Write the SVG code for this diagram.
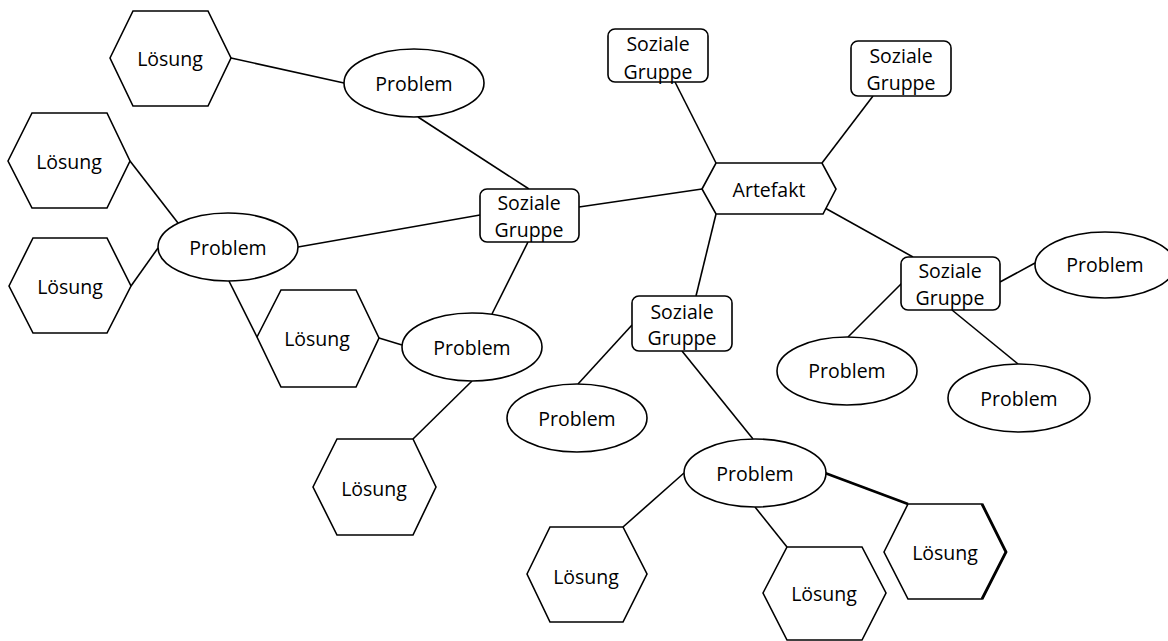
<svg xmlns="http://www.w3.org/2000/svg" width="1168" height="641" viewBox="0 0 1168 641">
<style>
.s{fill:#fff;stroke:#000;stroke-width:1.6}
.t{font-family:"Open Sans","Noto Sans",sans-serif;font-size:19.5px;fill:#000;text-anchor:middle;dominant-baseline:central}
.c line{stroke:#000;stroke-width:1.6}
</style>
<rect width="1168" height="641" fill="#fff"/>
<g id="connectors" class="c">
<line x1="231" y1="58" x2="344" y2="83"/>
<line x1="418" y1="117" x2="529" y2="189"/>
<line x1="130" y1="161" x2="178" y2="223"/>
<line x1="131" y1="286" x2="158" y2="248"/>
<line x1="298" y1="247" x2="480" y2="215"/>
<line x1="229" y1="281" x2="257" y2="337"/>
<line x1="379" y1="338" x2="402" y2="345"/>
<line x1="528" y1="242" x2="492" y2="314"/>
<line x1="472" y1="381" x2="413" y2="439"/>
<line x1="579" y1="207" x2="702" y2="189"/>
<line x1="675" y1="82" x2="716" y2="163"/>
<line x1="873" y1="96" x2="822" y2="163"/>
<line x1="716" y1="214" x2="696" y2="296"/>
<line x1="825" y1="208" x2="913" y2="257"/>
<line x1="1000" y1="282" x2="1035" y2="263"/>
<line x1="902" y1="283" x2="848" y2="337"/>
<line x1="952" y1="310" x2="1018" y2="364"/>
<line x1="632" y1="325" x2="578" y2="384"/>
<line x1="682" y1="351" x2="753" y2="439"/>
<line x1="684" y1="473" x2="623" y2="527"/>
<line x1="755" y1="507" x2="787" y2="547"/>
<line x1="825" y1="473" x2="908" y2="504" style="stroke-width:2.6"/>
</g>
<g id="loesung1"><polygon class="s" points="110,58 133,11 208,11 231,58 208,106 133,106"/><text class="t" x="170" y="58">Lösung</text></g>
<g id="problem1"><ellipse class="s" cx="414" cy="83" rx="70" ry="34"/><text class="t" x="414" y="83">Problem</text></g>
<g id="loesung2"><polygon class="s" points="8,161 32,113 107,113 130,161 107,208 32,208"/><text class="t" x="69" y="161">Lösung</text></g>
<g id="loesung3"><polygon class="s" points="9,286 33,238 107,238 131,286 107,333 33,333"/><text class="t" x="70" y="286">Lösung</text></g>
<g id="problem2"><ellipse class="s" cx="228" cy="247" rx="70" ry="34"/><text class="t" x="228" y="247">Problem</text></g>
<g id="gruppe1"><rect class="s" x="480" y="189" width="99" height="53" rx="7"/><text class="t" x="529" y="202">Soziale</text><text class="t" x="529" y="229">Gruppe</text></g>
<g id="loesung4"><polygon class="s" points="257,337 281,290 356,290 379,338 356,387 281,387"/><text class="t" x="317" y="338">Lösung</text></g>
<g id="problem3"><ellipse class="s" cx="472" cy="347" rx="70" ry="34"/><text class="t" x="472" y="347">Problem</text></g>
<g id="loesung5"><polygon class="s" points="313,487 337,439 413,439 436,487 413,535 337,535"/><text class="t" x="374" y="488">Lösung</text></g>
<g id="gruppe2"><rect class="s" x="608" y="29" width="100" height="53" rx="7"/><text class="t" x="658" y="43">Soziale</text><text class="t" x="658" y="71">Gruppe</text></g>
<g id="gruppe3"><rect class="s" x="851" y="41" width="100" height="55" rx="7"/><text class="t" x="901" y="55">Soziale</text><text class="t" x="901" y="82">Gruppe</text></g>
<g id="artefakt"><polygon class="s" points="702,189 716,163 822,163 836,189 823,214 716,214"/><text class="t" x="769" y="189">Artefakt</text></g>
<g id="gruppe4"><rect class="s" x="901" y="257" width="99" height="53" rx="7"/><text class="t" x="950" y="270">Soziale</text><text class="t" x="950" y="297">Gruppe</text></g>
<g id="problem4"><ellipse class="s" cx="1105" cy="265" rx="70" ry="33"/><text class="t" x="1105" y="264">Problem</text></g>
<g id="problem5"><ellipse class="s" cx="847" cy="371" rx="70" ry="34"/><text class="t" x="847" y="370">Problem</text></g>
<g id="problem6"><ellipse class="s" cx="1019" cy="398" rx="71" ry="34"/><text class="t" x="1019" y="398">Problem</text></g>
<g id="gruppe5"><rect class="s" x="632" y="296" width="100" height="55" rx="7"/><text class="t" x="682" y="311">Soziale</text><text class="t" x="682" y="337">Gruppe</text></g>
<g id="problem7"><ellipse class="s" cx="577" cy="418" rx="70" ry="34"/><text class="t" x="577" y="418">Problem</text></g>
<g id="problem8"><ellipse class="s" cx="755" cy="473" rx="71" ry="34"/><text class="t" x="755" y="473">Problem</text></g>
<g id="loesung6"><polygon class="s" points="527,574 550,527 623,527 647,574 623,622 550,622"/><text class="t" x="586" y="576">Lösung</text></g>
<g id="loesung7"><polygon class="s" points="763,593 787,547 862,547 886,593 862,640 787,640"/><text class="t" x="824" y="593">Lösung</text></g>
<g id="loesung8"><polygon class="s" points="884,552 908,504 982,504 1006,552 982,599 908,599"/><polyline points="982,504 1006,552 982,599" fill="none" stroke="#000" stroke-width="2.8"/><text class="t" x="945" y="552">Lösung</text></g>
</svg>
